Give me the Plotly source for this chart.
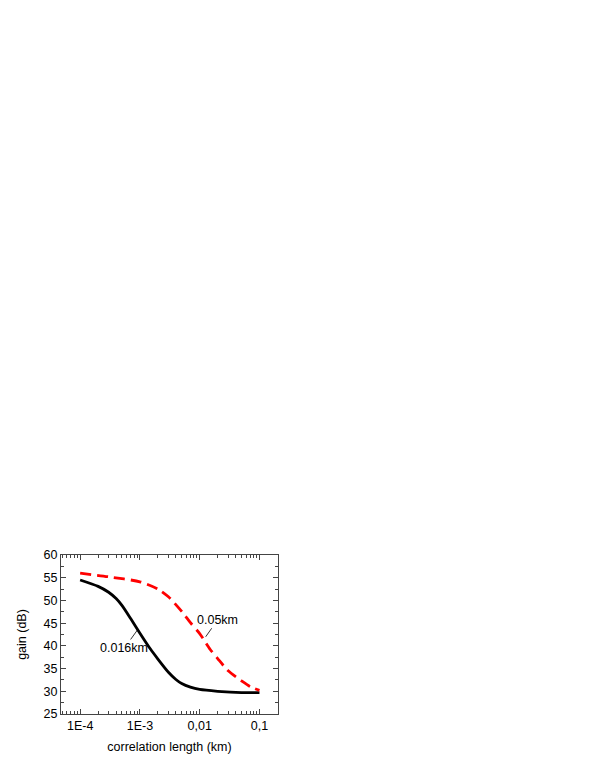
import numpy as np
import plotly.graph_objects as go

# correlation length (km) and gain (dB)
x_solid = [1e-4, 2e-4, 3e-4, 4e-4, 5e-4, 7e-4, 1e-3, 1.5e-3, 2e-3, 3e-3,
           4e-3, 5e-3, 7e-3, 1e-2, 2e-2, 5e-2, 0.1]
gain_solid = [54.5, 53.1, 51.8, 50.4, 48.9, 46.0, 42.8, 39.3, 37.1, 34.2,
              32.6, 31.7, 30.9, 30.4, 30.0, 29.7, 29.7]

x_dash = [1e-4, 3e-4, 1e-3, 2e-3, 3e-3, 5e-3, 7e-3, 1e-2, 1.5e-2,
          2e-2, 3e-2, 5e-2, 7e-2, 0.1]
gain_dash = [56.0, 55.2, 54.1, 52.5, 50.8, 47.6, 45.1, 42.7, 39.2,
             37.2, 34.5, 32.3, 31.0, 30.2]

xtick_vals = [1e-4, 1e-3, 1e-2, 1e-1]
xtick_text = ["1E-4", "1E-3", "0,01", "0,1"]
x_minor = [m * d for d in [1e-5, 1e-4, 1e-3, 1e-2, 1e-1] for m in range(2, 10)]

font = "Liberation Sans, Arial, sans-serif"
axcol = "#444"
fsize = 12.5

fig = go.Figure()
fig.add_trace(go.Scatter(x=x_solid, y=gain_solid, mode="lines",
                         line=dict(color="black", width=2.8, shape="spline", smoothing=0.7)))
fig.add_trace(go.Scatter(x=x_dash, y=gain_dash, mode="lines",
                         line=dict(color="#ff0000", width=2.8, dash="11px,6px",
                                   shape="spline", smoothing=0.7)))

# labels with leader lines
fig.add_annotation(x=np.log10(1.26e-2), y=42.0, text="0.05km", showarrow=True,
                   arrowhead=0, arrowwidth=0.8, arrowcolor="black", ax=12, ay=-17,
                   font=dict(family=font, size=fsize, color="black"))
fig.add_annotation(x=np.log10(9.1e-4), y=43.5, text="0.016km", showarrow=True,
                   arrowhead=0, arrowwidth=0.8, arrowcolor="black", ax=-13, ay=18,
                   font=dict(family=font, size=fsize, color="black"))

fig.update_xaxes(type="log", range=[-4.32, -0.69], automargin=False,
                 tickvals=xtick_vals, ticktext=xtick_text,
                 ticks="inside", ticklen=5, tickcolor=axcol,
                 minor=dict(tickvals=x_minor, ticks="inside", ticklen=3, tickcolor=axcol),
                 showline=True, linecolor=axcol, linewidth=1.2, mirror="ticks",
                 showgrid=False, zeroline=False,
                 title=dict(text="correlation length (km)", standoff=10,
                            font=dict(family=font, size=fsize, color="black")),
                 tickfont=dict(family=font, size=fsize, color="black"))
fig.update_yaxes(range=[25, 60], dtick=5, automargin=False,
                 ticks="inside", ticklen=5, tickcolor=axcol,
                 minor=dict(dtick=2.5, ticks="inside", ticklen=3, tickcolor=axcol),
                 showline=True, linecolor=axcol, linewidth=1.2, mirror="ticks",
                 showgrid=False, zeroline=False,
                 title=dict(text="gain (dB)", standoff=14,
                            font=dict(family=font, size=fsize, color="black")),
                 tickfont=dict(family=font, size=fsize, color="black"))

# the page body adds an 8px offset, so margins are shifted by that much
fig.update_layout(width=595, height=770, showlegend=False,
                  plot_bgcolor="white", paper_bgcolor="white",
                  margin=dict(l=53, r=325, t=547, b=64))

fig.write_html("out.html")
